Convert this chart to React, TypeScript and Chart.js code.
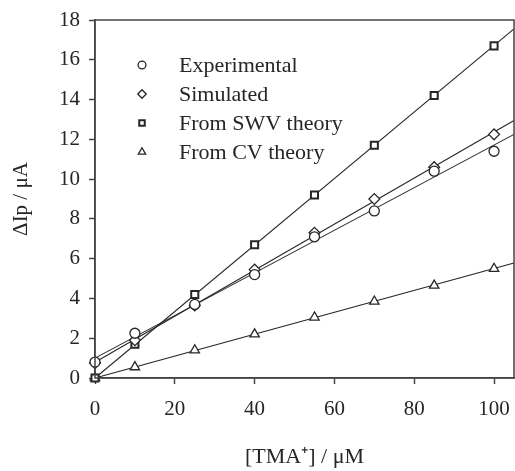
import React, { useEffect, useRef } from "react";
import { Chart, registerables } from "chart.js";
import { drawPoint } from "chart.js/helpers";

Chart.register(...registerables);

// TMA+ concentrations (µM)
const concentrations = [0, 10, 25, 40, 55, 70, 85, 100];

// Peak current differences (µA)
const experimental = [0.8, 2.25, 3.7, 5.2, 7.1, 8.4, 10.4, 11.4];
const simulated = [0.75, 1.9, 3.65, 5.45, 7.3, 9.0, 10.6, 12.25];
const swvTheory = [0, 1.7, 4.2, 6.7, 9.2, 11.7, 14.2, 16.7];
const cvTheory = [0, 0.55, 1.4, 2.2, 3.05, 3.85, 4.65, 5.5];

// Straight trend lines, given by their end points
const lineX = [0, 105];
const experimentalLine = [1.0, 12.25];
const simulatedLine = [0.79, 12.95];
const swvLine = [0, 17.55];
const cvLine = [0, 5.78];

const xTicks = [0, 20, 40, 60, 80, 100];

const seriesNames = ["Experimental", "Simulated", "From SWV theory", "From CV theory"];
const pointStyles = ["circle", "rectRot", "rect", "triangle"] as const;
const pointRadii = [5, 5.4, 5, 5.4];
const pointBorders = [1.3, 1.3, 2, 1.3];

const INK = "#262626";
const FONT = "'Liberation Serif', 'Times New Roman', serif";

const toPoints = (xs: number[], ys: number[]) => xs.map((x, i) => ({ x, y: ys[i] }));

// Legend drawn inside the plot area, upper left
const insideLegend = {
  id: "insideLegend",
  afterDraw(chart: any) {
    const { ctx } = chart;
    const rows = [65, 94, 123, 152];
    ctx.save();
    ctx.font = `22px ${FONT}`;
    ctx.textBaseline = "middle";
    ctx.textAlign = "left";
    seriesNames.forEach((name, i) => {
      ctx.strokeStyle = INK;
      ctx.fillStyle = "#ffffff";
      ctx.lineWidth = pointBorders[i];
      drawPoint(ctx, { pointStyle: pointStyles[i], radius: pointRadii[i] * 0.78, rotation: 0, borderWidth: pointBorders[i] }, 142, rows[i]);
      ctx.fillStyle = INK;
      ctx.fillText(name, 179, rows[i] + 1);
    });
    ctx.restore();
  },
};

// Box around the plot area
const frame = {
  id: "frame",
  afterDraw(chart: any) {
    const { ctx, chartArea } = chart;
    ctx.save();
    ctx.strokeStyle = "#444";
    ctx.lineWidth = 1.5;
    ctx.strokeRect(chartArea.left, chartArea.top, chartArea.right - chartArea.left, chartArea.bottom - chartArea.top);
    ctx.restore();
  },
};

export default function App() {
  const canvasRef = useRef<HTMLCanvasElement | null>(null);

  useEffect(() => {
    document.body.style.margin = "0";
    const canvas = canvasRef.current;
    if (!canvas) return;

    const lineSet = (ys: number[]) => ({
      type: "line" as const,
      data: toPoints(lineX, ys),
      borderColor: INK,
      borderWidth: 1.1,
      pointRadius: 0,
      fill: false,
      clip: 1,
      order: 2,
    });

    const markerSet = (ys: number[], i: number) => ({
      type: "scatter" as const,
      label: seriesNames[i],
      data: toPoints(concentrations, ys),
      pointStyle: pointStyles[i],
      pointRadius: pointRadii[i],
      pointBorderWidth: pointBorders[i],
      pointBorderColor: INK,
      pointBackgroundColor: "#ffffff",
      showLine: false,
      clip: false,
      order: 1,
    });

    const chart = new Chart(canvas, {
      type: "scatter",
      data: {
        datasets: [
          lineSet(experimentalLine),
          lineSet(simulatedLine),
          lineSet(swvLine),
          lineSet(cvLine),
          markerSet(experimental, 0),
          markerSet(simulated, 1),
          markerSet(swvTheory, 2),
          markerSet(cvTheory, 3),
        ],
      },
      plugins: [frame, insideLegend],
      options: {
        animation: false,
        responsive: false,
        layout: { autoPadding: false, padding: { top: 20, right: 1, left: 0, bottom: 0 } },
        plugins: { legend: { display: false }, tooltip: { enabled: false } },
        scales: {
          x: {
            type: "linear",
            min: 0,
            max: 105,
            afterFit: (s: any) => {
              s.height = 93;
              s.paddingLeft = 0;
              s.paddingRight = 0;
            },
            afterBuildTicks: (s: any) => {
              s.ticks = xTicks.map((v) => ({ value: v }));
            },
            ticks: { color: INK, font: { family: FONT, size: 21 }, padding: 13 },
            grid: { drawOnChartArea: false, drawTicks: true, tickLength: 6, tickColor: "#444", tickWidth: 1.5 },
            border: { display: true, color: "#444", width: 1.5 },
            title: {
              display: true,
              text: "[TMA⁺] / μM",
              color: INK,
              font: { family: FONT, size: 22 },
              padding: { top: 0, bottom: 1 },
            },
          },
          y: {
            type: "linear",
            min: 0,
            max: 18,
            afterFit: (s: any) => {
              s.width = 95;
              s.paddingTop = 0;
              s.paddingBottom = 0;
            },
            ticks: { stepSize: 2, color: INK, font: { family: FONT, size: 21 }, padding: 9 },
            grid: { drawOnChartArea: false, drawTicks: true, tickLength: 6, tickColor: "#444", tickWidth: 1.5 },
            border: { display: true, color: "#444", width: 1.5 },
            title: {
              display: true,
              text: "ΔIp / μA",
              color: INK,
              font: { family: FONT, size: 21 },
              padding: { top: 9, bottom: 0 },
            },
          },
        },
      },
    } as any);

    return () => chart.destroy();
  }, []);

  return <canvas ref={canvasRef} width={515} height={471} style={{ display: "block" }} />;
}
